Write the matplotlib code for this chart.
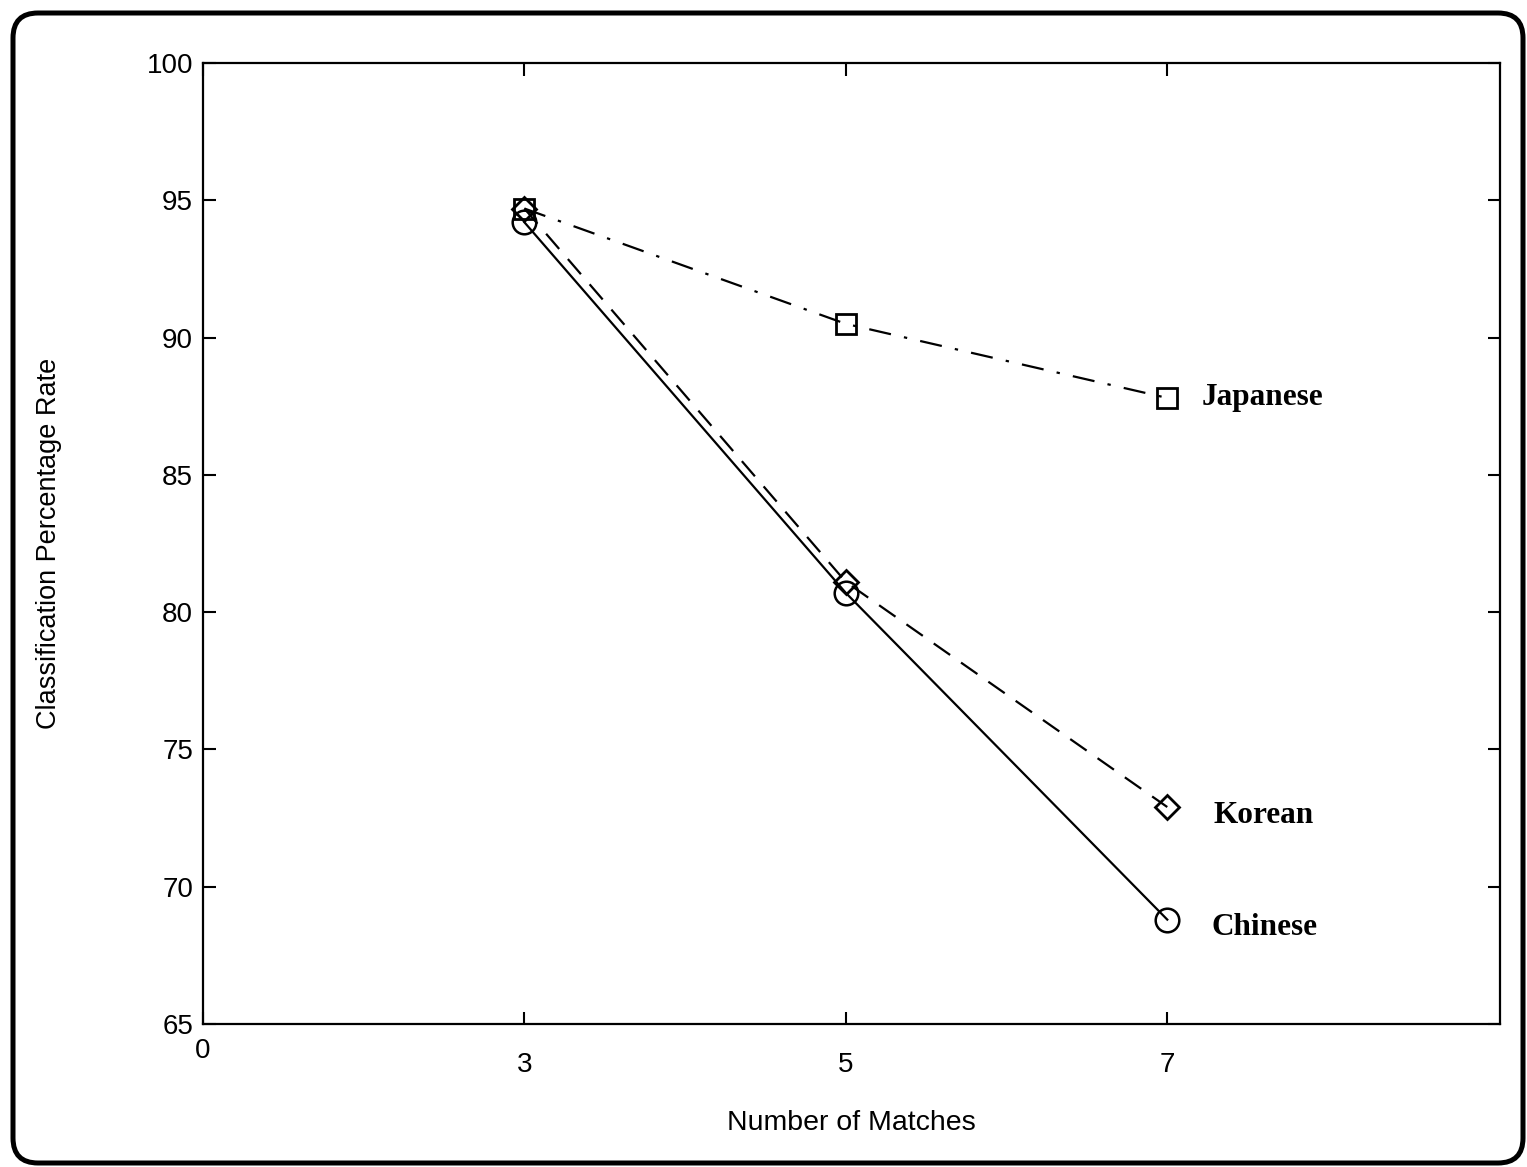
import numpy as np
import matplotlib
matplotlib.use("Agg")
import matplotlib.pyplot as plt
import matplotlib.patches as mpatches
import matplotlib.transforms as mtrans

# data
matches = [3, 5, 7]
japanese = [94.7, 90.5, 87.8]
korean = [94.7, 81.1, 72.9]
chinese = [94.2, 80.7, 68.8]

xticks = [1, 3, 5, 7]
xtick_labels = ['0', '3', '5', '7']
yticks = [65, 70, 75, 80, 85, 90, 95, 100]

plt.rcParams['font.family'] = ['Liberation Sans', 'DejaVu Sans']

fig = plt.figure(figsize=(15.27, 11.67), dpi=100)
ax = fig.add_axes([0.1329, 0.1226, 0.8494, 0.8234])

lw = 1.6
ax.plot(matches, japanese, color='black', lw=lw, ls=(0, (10, 6, 1.5, 6)),
        marker='s', ms=14, mfc='none', mec='black', mew=2)
ax.plot(matches, korean, color='black', lw=lw, ls=(0, (9, 6)),
        marker='D', ms=12, mfc='none', mec='black', mew=2)
ax.plot(matches, chinese, color='black', lw=lw, ls='-',
        marker='o', ms=17, mfc='none', mec='black', mew=1.8)

# series names next to last points
serif = ['Liberation Serif', 'DejaVu Serif']
ax.annotate('Japanese', xy=(matches[-1], japanese[-1]), xytext=(25, 0),
            textcoords='offset points', va='center', ha='left',
            fontsize=22.5, fontweight='bold', family=serif)
ax.annotate('Korean', xy=(matches[-1], korean[-1]), xytext=(33, -6),
            textcoords='offset points', va='center', ha='left',
            fontsize=22.5, fontweight='bold', family=serif)
ax.annotate('Chinese', xy=(matches[-1], chinese[-1]), xytext=(32, -6),
            textcoords='offset points', va='center', ha='left',
            fontsize=22.5, fontweight='bold', family=serif)

ax.set_xlim(1, 9.07)
ax.set_ylim(65, 100)
ax.set_xticks(xticks)
ax.set_xticklabels(xtick_labels)
ax.set_yticks(yticks)

ax.tick_params(direction='in', length=9, width=1.5, top=True, right=True,
               labelsize=20)
ax.tick_params(axis='x', pad=20)
ax.tick_params(axis='y', pad=7)
ax.xaxis.get_major_ticks()[0].set_pad(10)   # the "0" sits a bit higher

for s in ax.spines.values():
    s.set_linewidth(1.6)

ax.set_xlabel('Number of Matches', fontsize=20.5)
ax.set_ylabel('Classification Percentage Rate', fontsize=19.5)
ax.xaxis.set_label_coords(0.5, -0.09)
ax.yaxis.set_label_coords(-0.109, 0.5)

# rounded border around the whole figure (pixel coords)
frame = mpatches.FancyBboxPatch((13, 4), 1510, 1150,
                                boxstyle='round,pad=0,rounding_size=25',
                                fill=False, lw=3.6, ec='black',
                                transform=mtrans.IdentityTransform())
fig.add_artist(frame)

fig.savefig('out.png', dpi=100, facecolor='white')
